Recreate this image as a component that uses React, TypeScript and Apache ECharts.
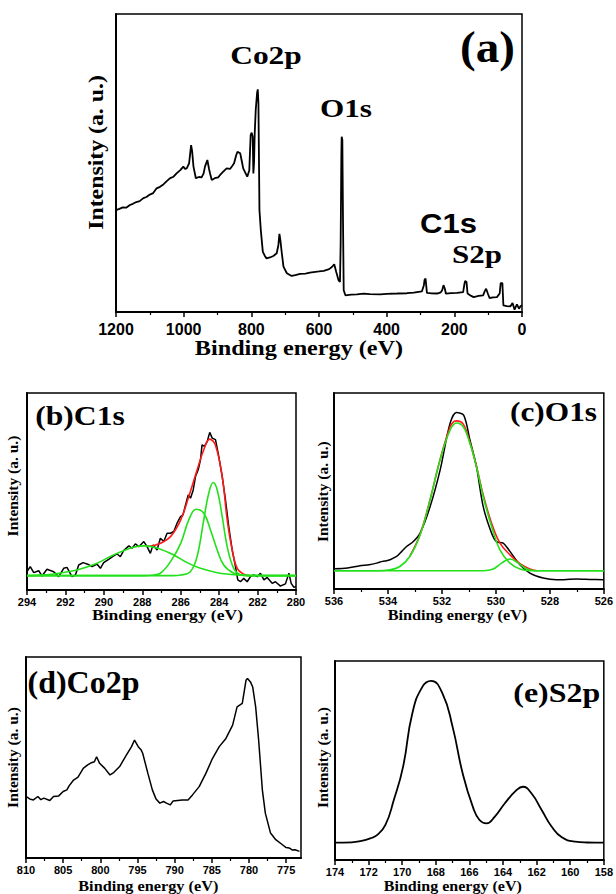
import React, { useEffect, useRef } from "react";
import * as echarts from "echarts";

// ---------- data (binding energy eV, intensity a.u. on a 0..100 scale) ----------
const surveyData: [number, number][] = [
  [1200, 34.2], [1190, 34.6], [1180, 35.1], [1170, 35.0], [1159, 35.9], [1150, 36.3], [1140, 36.9],
  [1130, 37.2], [1119, 38.2], [1110, 38.6], [1100, 39.4], [1090, 39.9], [1080, 41.5], [1070, 42.0],
  [1060, 42.8], [1050, 43.9], [1040, 44.9], [1030, 45.4], [1021, 46.5], [1010, 47.6], [1001, 48.8],
  [996, 48.0], [991, 48.2], [984, 49.9], [978, 56.0], [975, 54.0], [971, 48.8], [964, 44.9], [955, 45.3],
  [947, 45.2], [941, 46.5], [937, 48.8], [930, 51.0], [925, 48.0], [922, 46.5], [917, 44.3], [908, 44.9],
  [898, 45.2], [890, 46.3], [883, 47.1], [873, 48.2], [863, 48.0], [857, 48.9], [851, 49.9], [845, 52.5],
  [841, 53.8], [833, 53.3], [828, 50.5], [824, 48.2], [818, 46.8], [812, 45.4], [806, 47.6], [802, 59.4],
  [799, 60.2], [796, 58.8], [794, 46.5], [792, 50.0], [790, 60.0], [787, 67.8], [783, 73.5], [781, 74.7],
  [779, 70.0], [778, 57.7], [776, 34.2], [772, 27.5], [766, 20.2], [760, 18.8], [755, 18.0], [745, 18.3],
  [735, 18.8], [725, 19.7], [720, 22.5], [717, 26.2], [714, 24.0], [711, 20.8], [705, 15.2], [695, 13.0],
  [681, 12.1], [670, 12.4], [656, 12.8], [640, 12.9], [627, 13.2], [616, 13.4], [600, 13.6], [586, 13.8],
  [570, 14.4], [562, 15.1], [555, 16.0], [549, 13.4], [542, 10.6], [538, 10.1], [536, 23.0], [534, 52.0],
  [533, 58.8], [531, 57.7], [529, 30.0], [527, 7.3], [522, 5.6], [505, 5.8], [488, 5.9], [468, 6.2],
  [450, 6.0], [419, 5.9], [400, 6.1], [369, 6.2], [340, 6.3], [320, 6.5], [296, 6.9], [290, 9.0],
  [288, 10.8], [285, 11.2], [281, 6.4], [270, 6.3], [251, 6.2], [240, 6.6], [236, 7.3], [232, 9.0],
  [228, 7.8], [225, 6.2], [210, 6.3], [192, 6.4], [174, 6.7], [170, 9.5], [168, 10.4], [164, 10.1],
  [161, 6.2], [150, 5.4], [143, 5.0], [128, 5.4], [115, 5.6], [110, 7.0], [106, 7.8], [101, 6.2],
  [96, 4.7], [85, 4.9], [74, 5.0], [66, 6.2], [63, 9.7], [58, 9.7], [55, 2.2], [45, 2.0], [34, 1.9],
  [28, 3.0], [22, 0.8], [15, 2.6], [9, 1.1], [4, 2.0], [0, 2.2],
];

const c1sData: [number, number][] = [
  [294, 9.3], [293.83, 11.9], [293.65, 8.8], [293.39, 9.8], [293.22, 7.1], [292.96, 10.5], [292.61, 9.3],
  [292.35, 6.8], [292.09, 11.0], [291.92, 11.5], [291.66, 6.8], [291.48, 7.6], [291.31, 12.7], [291.08, 13.9],
  [290.84, 13.1], [290.61, 11.9], [290.35, 13.1], [290.18, 11.0], [290.01, 13.9], [289.75, 15.6],
  [289.49, 17.3], [289.31, 18.3], [289.14, 16.9], [288.97, 20.0], [288.7, 22.4], [288.53, 21.2],
  [288.36, 23.4], [288.18, 22.0], [287.92, 24.6], [287.75, 22.0], [287.58, 18.6], [287.44, 22.9],
  [287.23, 20.3], [287.06, 26.3], [286.88, 24.6], [286.71, 28.8], [286.53, 28.8], [286.36, 29.7],
  [286.19, 33.9], [286.01, 37.3], [285.88, 38.1], [285.75, 43.2], [285.61, 48.3], [285.49, 46.6],
  [285.35, 50.8], [285.23, 57.6], [285.09, 61.0], [284.97, 66.1], [284.89, 73.7], [284.76, 72.9],
  [284.62, 75.4], [284.49, 80.0], [284.36, 77.1], [284.19, 76.3], [284.02, 67.8], [283.84, 57.6],
  [283.67, 45.8], [283.5, 32.2], [283.32, 20.3], [283.15, 11.9], [283.03, 5.1], [282.89, 4.2],
  [282.72, 5.9], [282.54, 4.2], [282.37, 6.8], [282.19, 7.6], [282.02, 6.8], [281.85, 8.5], [281.67, 5.1],
  [281.5, 6.4], [281.24, 3.4], [281.07, 4.2], [280.81, 2.0], [280.55, 3.1], [280.37, 8.5], [280.25, 3.4],
  [280.11, 1.4], [280, 1.7],
];
const c1sFit: [number, number][] = [
  [287.7, 22.2], [287.5, 22.4], [287.06, 23.7], [286.53, 27.1], [286.0, 35.6], [285.58, 47.5],
  [285.2, 59.3], [284.8, 71.2], [284.49, 76.6], [284.2, 73.7], [283.84, 57.6], [283.58, 35.6],
  [283.32, 20.3], [283.06, 11.0], [282.72, 8.0], [282.45, 7.3],
];
const c1sPeak1: [number, number][] = [
  [294, 7.3], [293, 7.7], [292.35, 8.5], [291.4, 10.2], [290.35, 13.6], [289.5, 17.8], [288.45, 21.7],
  [287.9, 22.4], [287.2, 21.2], [286.36, 17.8], [285.67, 13.9], [284.97, 11.0], [284.1, 8.8], [283.5, 8.0],
  [282.9, 7.6], [282, 7.35], [280, 7.3],
];
const c1sPeak2: [number, number][] = [
  [294, 7.3], [287.9, 7.3], [287.5, 7.5], [287.06, 8.5], [286.53, 14.4], [286.0, 23.7], [285.58, 35.6],
  [285.2, 41.0], [284.8, 39.0], [284.45, 30.5], [284.1, 20.3], [283.76, 12.7], [283.24, 8.5], [282.7, 7.4],
  [282.2, 7.3], [280, 7.3],
];
const c1sPeak3: [number, number][] = [
  [294, 7.3], [286.4, 7.3], [286.0, 7.6], [285.5, 9.3], [285.15, 16.9], [284.8, 35.6], [284.54, 49.2],
  [284.31, 54.6], [284.1, 50.8], [283.84, 37.3], [283.58, 22.0], [283.24, 11.0], [282.89, 7.8],
  [282.45, 7.3], [280, 7.3],
];

const o1sData: [number, number][] = [
  [536, 10.3], [535.5, 10.7], [535.04, 11.9], [534.7, 12.4], [534.42, 13.2], [534.2, 14.1], [534.05, 14.4],
  [533.93, 14.9], [533.68, 16.6], [533.49, 19.2], [533.31, 21.7], [533.06, 24.2], [532.81, 28.5],
  [532.44, 41.9], [532.07, 60.5], [531.7, 84.4], [531.46, 90.0], [531.19, 88.6], [530.96, 75.9],
  [530.72, 62.4], [530.47, 42.0], [530.16, 28.5], [529.98, 24.2], [529.73, 23.4], [529.48, 19.2],
  [529.11, 12.4], [528.74, 8.1], [528.25, 5.6], [527.75, 4.7], [527.01, 5.1], [526.52, 4.9], [526.02, 4.7],
];
const o1sFit: [number, number][] = [
  [533.19, 16.8], [532.81, 27.8], [532.44, 45.6], [532.07, 66.0], [531.7, 82.7], [531.55, 85.5],
  [531.46, 85.8], [531.21, 84.1], [530.96, 74.6], [530.72, 62.7], [530.47, 48.0], [530.16, 33.6],
  [529.85, 23.4], [529.48, 17.5], [529.11, 12.9], [528.74, 10.2], [528.49, 9.3],
];
const o1sPeak1: [number, number][] = [
  [536, 9.3], [534.42, 9.3], [533.93, 9.8], [533.56, 11.5], [533.19, 16.6], [532.81, 27.6], [532.44, 45.4],
  [532.07, 65.8], [531.7, 81.0], [531.46, 84.7], [531.21, 82.7], [530.96, 74.2], [530.72, 62.4],
  [530.47, 47.1], [530.16, 31.9], [529.85, 20.0], [529.48, 13.2], [529.11, 10.2], [528.74, 9.3], [526, 9.3],
];
const o1sPeak2: [number, number][] = [
  [536, 9.3], [530.47, 9.3], [530.1, 10.2], [529.79, 13.2], [529.48, 15.3], [529.17, 13.2], [528.86, 10.2],
  [528.49, 9.3], [526, 9.3],
];

const co2pData: [number, number][] = [
  [810, 30.6], [809.5, 29.4], [809, 28.9], [808.4, 30.6], [808, 29.0], [807.6, 29.8], [806.8, 28.6],
  [806.3, 30.6], [805.6, 30.9], [805, 33.1], [804.5, 33.9], [804.2, 35.9], [803.6, 38.8], [803, 40.2],
  [802.3, 44.6], [801.7, 46.3], [801.2, 47.4], [800.8, 47.9], [800.5, 50.4], [800.1, 47.1], [799.4, 44.6],
  [798.7, 41.3], [798.2, 42.5], [797.4, 45.5], [796.5, 51.2], [795.8, 55.4], [795.4, 58.7], [794.9, 55.4],
  [794.5, 53.7], [794.3, 52.1], [793.6, 42.1], [793, 33.9], [792.5, 29.3], [792, 27.3], [791.5, 28.1],
  [791.1, 27.3], [790.6, 26.4], [790.2, 28.4], [789, 28.8], [788.2, 28.9], [787.6, 31.4], [786.7, 35.5],
  [785.8, 42.1], [784.9, 49.6], [784, 55.4], [783.1, 59.5], [782.2, 66.1], [781.6, 75.2], [780.9, 76.9],
  [780.4, 88.4], [780.2, 89.3], [779.8, 87.6], [779.5, 85.1], [779.1, 75.2], [778.7, 58.7], [778.2, 33.9],
  [777.8, 22.3], [777.1, 12.4], [776.4, 9.1], [775.5, 6.6], [775, 5.2], [774.6, 5.0], [774.2, 4.0],
  [773.8, 4.1], [773.2, 3.3],
];

const s2pData: [number, number][] = [
  [174, 8.7], [173, 8.9], [172.5, 9.5], [171.9, 10.9], [171.5, 12.5], [171.0, 17.6], [170.5, 30.1],
  [169.95, 46.8], [169.4, 73.6], [168.8, 87.0], [168.28, 90.0], [167.6, 83.6], [167.0, 66.9],
  [166.4, 43.5], [165.8, 26.8], [165.4, 20.1], [164.98, 18.4], [164.5, 21.7], [163.9, 28.4],
  [163.2, 35.1], [162.82, 36.8], [162.3, 33.4], [161.7, 25.1], [161.1, 16.7], [160.5, 11.4],
  [159.7, 9.2], [159, 8.8], [158, 8.7],
];

const co2pMajor = [775, 780, 785, 790, 795, 800, 805, 810];
const co2pMinor = [777.5, 782.5, 787.5, 792.5, 797.5, 802.5, 807.5];

// ---------- styling helpers ----------
const SERIF = '"Liberation Serif", "Times New Roman", serif';
const SANS = '"Liberation Sans", Arial, sans-serif';
const plainNum = (v: number) => String(v);

function txt(text: string, x: number, y: number, size: number, scaleX: number, font: string, rotation = 0) {
  return {
    type: "text",
    x,
    y,
    scaleX,
    rotation,
    silent: true,
    style: {
      text,
      fontSize: size,
      fontFamily: font,
      fontWeight: "bold",
      fill: "#000",
      align: "center",
      verticalAlign: "middle",
    },
  };
}

function xAx(gridIndex: number, min: number, max: number, interval: number | undefined, fontSize: number, margin: number, extra: any = {}) {
  return {
    type: "value",
    gridIndex,
    min,
    max,
    interval,
    inverse: true,
    position: "bottom",
    axisLine: { show: true, onZero: false, lineStyle: { color: "#000", width: 2 } },
    axisTick: { show: true, inside: false, length: 5, lineStyle: { color: "#000", width: 1.5 } },
    minorTick: { show: true, splitNumber: 2, length: 3, lineStyle: { color: "#000", width: 1.2 } },
    splitLine: { show: false },
    minorSplitLine: { show: false },
    axisLabel: {
      show: true,
      fontFamily: SANS,
      fontWeight: "bold",
      fontSize,
      color: "#000",
      margin,
      showMinLabel: true,
      showMaxLabel: true,
      formatter: plainNum,
    },
    ...extra,
  };
}

function yAx(gridIndex: number) {
  return {
    type: "value",
    gridIndex,
    min: 0,
    max: 100,
    axisLine: { show: true, onZero: false, lineStyle: { color: "#000", width: 2 } },
    axisTick: { show: false },
    axisLabel: { show: false },
    splitLine: { show: false },
  };
}

function line(data: [number, number][], xi: number, yi: number, color: string, width: number, smooth: number | boolean = false) {
  return {
    type: "line",
    xAxisIndex: xi,
    yAxisIndex: yi,
    data,
    symbol: "none",
    smooth,
    lineStyle: { color, width },
    silent: true,
    z: 2,
  };
}

const BLACK = "#000000";
const RED = "#ff1a1a";
const GREEN = "#22e01a";

export default function App() {
  const ref = useRef<HTMLDivElement>(null);
  useEffect(() => {
    if (!ref.current) return;
    const chart = echarts.init(ref.current, undefined, { renderer: "svg" });
    const gridBase = { show: true, borderColor: "#000", borderWidth: 1.5, backgroundColor: "transparent", containLabel: false };
    const option: any = {
      animation: false,
      backgroundColor: "#fff",
      grid: [
        { ...gridBase, left: 116, top: 14, width: 406, height: 298 },
        { ...gridBase, left: 27, top: 393, width: 269, height: 197 },
        { ...gridBase, left: 334, top: 393, width: 270, height: 196 },
        { ...gridBase, left: 26, top: 657, width: 275, height: 201 },
        { ...gridBase, left: 335, top: 661, width: 271, height: 199 },
      ],
      xAxis: [
        xAx(0, 0, 1200, 200, 16, 9),
        xAx(1, 280, 294, 2, 11, 6),
        xAx(2, 526, 536, 2, 11, 6),
        xAx(3, 773, 810, undefined, 11, 6, {
          axisLabel: {
            show: true, fontFamily: SANS, fontWeight: "bold", fontSize: 11, color: "#000", margin: 6,
            customValues: co2pMajor, formatter: plainNum,
          },
          axisTick: { show: true, inside: false, length: 5, lineStyle: { color: "#000", width: 1.5 }, customValues: co2pMajor },
          minorTick: { show: false },
        }),
        xAx(4, 158, 174, 2, 11, 6),
        xAx(3, 773, 810, undefined, 11, 6, {
          axisLine: { show: false },
          axisLabel: { show: false },
          axisTick: { show: true, inside: false, length: 3, lineStyle: { color: "#000", width: 1.2 }, customValues: co2pMinor },
          minorTick: { show: false },
        }),
      ],
      yAxis: [yAx(0), yAx(1), yAx(2), yAx(3), yAx(4)],
      series: [
        line(surveyData, 0, 0, BLACK, 1.8),
        line(c1sData, 1, 1, BLACK, 1.5),
        line(c1sFit, 1, 1, RED, 1.6, 0.4),
        line(c1sPeak1, 1, 1, GREEN, 1.6, 0.4),
        line(c1sPeak2, 1, 1, GREEN, 1.6, 0.4),
        line(c1sPeak3, 1, 1, GREEN, 1.6, 0.4),
        line(o1sData, 2, 2, BLACK, 1.5, 0.3),
        line(o1sFit, 2, 2, RED, 1.6, 0.4),
        line(o1sPeak1, 2, 2, GREEN, 1.6, 0.4),
        line(o1sPeak2, 2, 2, GREEN, 1.6, 0.4),
        line(co2pData, 3, 3, BLACK, 1.5),
        line(s2pData, 4, 4, BLACK, 1.8, 0.5),
      ],
      graphic: [
        // panel (a)
        txt("(a)", 487.5, 47, 44, 1.07, SERIF),
        txt("Co2p", 266, 55, 26, 1.21, SERIF),
        txt("O1s", 346, 107.7, 26, 1.2, SERIF),
        txt("C1s", 448.5, 223.6, 27, 1.15, SANS),
        txt("S2p", 477, 254.2, 26, 1.19, SERIF),
        txt("Binding energy (eV)", 299, 348, 20, 1.21, SERIF),
        txt("Intensity (a. u.)", 96.6, 152.5, 20, 1.19, SERIF, Math.PI / 2),
        // panel (b)
        txt("(b)C1s", 80, 415, 28, 1.13, SERIF),
        txt("Binding energy (eV)", 167.5, 615, 15, 1.17, SERIF),
        txt("Intensity (a. u.)", 12.4, 486, 15.5, 1.0, SERIF, Math.PI / 2),
        // panel (c)
        txt("(c)O1s", 553.5, 411.6, 27, 1.16, SERIF),
        txt("Binding energy (eV)", 457.5, 615, 15, 1.08, SERIF),
        txt("Intensity (a. u.)", 322.4, 491.7, 15.5, 1.0, SERIF, Math.PI / 2),
        // panel (d)
        txt("(d)Co2p", 83.5, 682, 32, 1.0, SERIF),
        txt("Binding energy (eV)", 148.3, 885.4, 15, 1.085, SERIF),
        txt("Intensity (a. u.)", 12.7, 757.5, 15.5, 1.0, SERIF, Math.PI / 2),
        // panel (e)
        txt("(e)S2p", 556.7, 691.8, 28, 1.14, SERIF),
        txt("Binding energy (eV)", 452.8, 885.4, 15, 1.07, SERIF),
        txt("Intensity (a. u.)", 322.7, 757.5, 15.5, 1.0, SERIF, Math.PI / 2),
      ],
    };
    chart.setOption(option);
    return () => chart.dispose();
  }, []);
  return <div ref={ref} style={{ position: "absolute", left: 0, top: 0, width: 616, height: 894 }} />;
}
